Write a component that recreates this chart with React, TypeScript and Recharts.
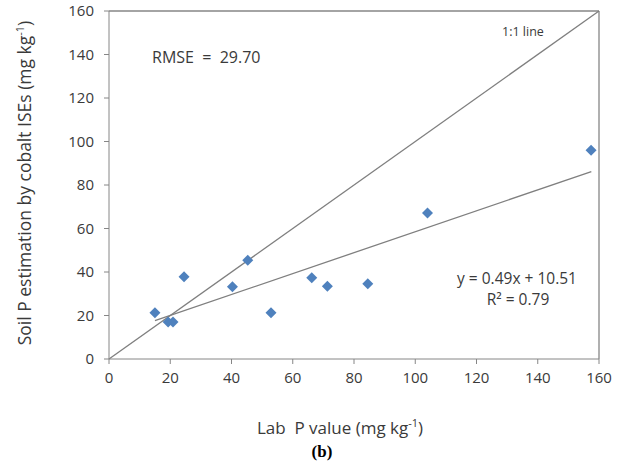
import { ScatterChart, Scatter, XAxis, YAxis, ReferenceLine } from 'recharts'

// lab P value (x) vs ISE estimate (y)
const labP = [15.0, 19.3, 20.9, 24.5, 40.3, 45.3, 52.9, 66.2, 71.3, 84.5, 104.0, 157.4]
const iseP = [21.3, 17.0, 17.0, 37.8, 33.2, 45.4, 21.3, 37.3, 33.5, 34.6, 67.1, 96.0]

// fitted line end points as drawn
const trendX = [15, 157.5]
const trendY = [17.6, 86.2]

const xTicks = [0, 20, 40, 60, 80, 100, 120, 140, 160]
const yTicks = [0, 20, 40, 60, 80, 100, 120, 140, 160]

const points = labP.map((x, i) => ({ x, y: iseP[i] }))
const trend = trendX.map((x, i) => ({ x, y: trendY[i] }))

const FONT = '"Open Sans", "Noto Sans", sans-serif'
const GREY = '#868686'
const TXT = '#3a3a3a'

const Diamond = (props: any) => {
  const { cx, cy } = props
  const h = 5.5
  return (
    <polygon
      points={`${cx},${cy - h} ${cx + h},${cy} ${cx},${cy + h} ${cx - h},${cy}`}
      fill="#4F81BD"
    />
  )
}

export default function App() {
  return (
    <div style={{ position: 'absolute', left: 0, top: 0, background: '#fff' }}>
      <ScatterChart
        width={631}
        height={465}
        margin={{ top: 11, right: 32, bottom: 76, left: 49 }}
        style={{ fontFamily: FONT }}
      >
        <XAxis
          type="number"
          dataKey="x"
          domain={[0, 160]}
          ticks={xTicks}
          allowDataOverflow
          height={30}
          tickSize={5}
          tickMargin={8}
          stroke={GREY}
          tick={{ fill: TXT, fontSize: 15 }}
        />
        <YAxis
          type="number"
          dataKey="y"
          domain={[0, 160]}
          ticks={yTicks}
          allowDataOverflow
          width={60}
          tickSize={5}
          tickMargin={10}
          stroke={GREY}
          tick={{ fill: TXT, fontSize: 15 }}
        />
        <ReferenceLine y={160} stroke={GREY} strokeWidth={1.3} />
        <ReferenceLine x={160} stroke={GREY} strokeWidth={1.3} />
        <ReferenceLine
          segment={[{ x: 0, y: 0 }, { x: 160, y: 160 }]}
          stroke="#7f7f7f"
          strokeWidth={1.3}
        />
        <Scatter
          data={trend}
          line={{ stroke: '#7f7f7f', strokeWidth: 1.3 }}
          shape={() => <g />}
          isAnimationActive={false}
        />
        <Scatter data={points} shape={<Diamond />} isAnimationActive={false} />

        <text x={152} y={63} fontSize={16} fill={TXT} fontFamily={FONT}>
          {'RMSE\u00a0\u00a0=\u00a0\u00a029.70'}
        </text>
        <text x={502} y={36} fontSize={12.5} fill={TXT} fontFamily={FONT}>
          1:1 line
        </text>
        <text x={517} y={284} fontSize={15.5} fill={TXT} fontFamily={FONT} textAnchor="middle">
          y = 0.49x + 10.51
        </text>
        <text x={518} y={305} fontSize={15.5} fill={TXT} fontFamily={FONT} textAnchor="middle">
          R² = 0.79
        </text>
        <text
          x={0}
          y={0}
          transform="translate(31, 183) rotate(-90)"
          fontSize={17.5}
          fill={TXT}
          fontFamily={FONT}
          textAnchor="middle"
        >
          Soil P estimation by cobalt ISEs (mg kg
          <tspan dy={-7} fontSize={11}>-1</tspan>
          <tspan dy={7}>)</tspan>
        </text>
        <text x={340} y={434} fontSize={17} fill={TXT} fontFamily={FONT} textAnchor="middle">
          {'Lab\u00a0\u00a0P value (mg kg'}
          <tspan dy={-7} fontSize={11}>-1</tspan>
          <tspan dy={7}>)</tspan>
        </text>
        <text
          x={322}
          y={457}
          fontSize={17}
          fontWeight="bold"
          fill="#000"
          fontFamily='"Liberation Serif", "Times New Roman", serif'
          textAnchor="middle"
        >
          (b)
        </text>
      </ScatterChart>
    </div>
  )
}
